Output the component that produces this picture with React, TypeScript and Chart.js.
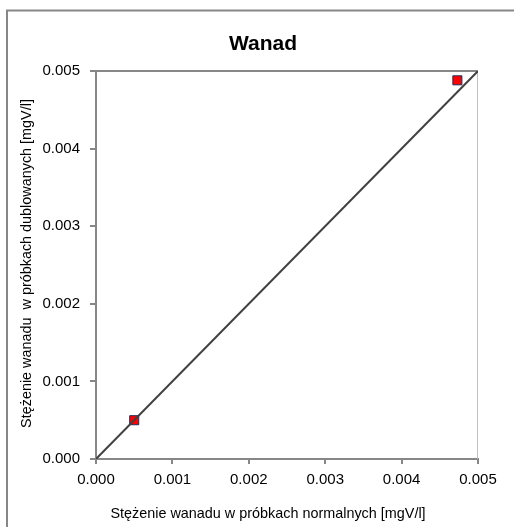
import { useEffect, useRef } from "react";
import { Chart, registerables } from "chart.js";

Chart.register(...registerables);

const TITLE = "Wanad";
const X_TITLE = "Stężenie wanadu w próbkach normalnych [mgV/l]";
const Y_TITLE = "Stężenie wanadu  w próbkach dublowanych [mgV/l]";

const normalValues = [0.0005, 0.00473];
const duplicateValues = [0.0005, 0.00488];
const lineX = [0, 0.005];
const lineY = [0, 0.005];
const AXIS_MIN = 0;
const AXIS_MAX = 0.005;
const AXIS_STEP = 0.001;

const FONT = "'Liberation Sans', Arial, sans-serif";

const decor = {
  id: "decor",
  beforeDraw(chart: any) {
    const ctx = chart.ctx;
    ctx.save();
    ctx.fillStyle = "#ffffff";
    ctx.fillRect(0, 0, chart.width, chart.height);
    ctx.restore();
  },
  beforeDatasetsDraw(chart: any) {
    const ctx = chart.ctx;
    const a = chart.chartArea;
    ctx.save();
    ctx.strokeStyle = "#c0c0c0";
    ctx.lineWidth = 1;
    ctx.beginPath();
    ctx.moveTo(a.right - 0.5, a.top);
    ctx.lineTo(a.right - 0.5, a.bottom);
    ctx.stroke();
    ctx.strokeStyle = "#878787";
    ctx.lineWidth = 2;
    ctx.beginPath();
    ctx.moveTo(a.left, a.top);
    ctx.lineTo(a.right, a.top);
    ctx.stroke();
    ctx.restore();
  },
  afterDraw(chart: any) {
    const ctx = chart.ctx;
    ctx.save();
    ctx.strokeStyle = "#878787";
    ctx.lineWidth = 2;
    ctx.strokeRect(7, 10.5, 540, 540);
    ctx.fillStyle = "#000000";
    ctx.textAlign = "center";
    ctx.textBaseline = "middle";
    ctx.font = `bold 21px ${FONT}`;
    ctx.fillText(TITLE, 263, 44);
    ctx.textBaseline = "alphabetic";
    ctx.font = `14.4px ${FONT}`;
    ctx.fillText(X_TITLE, 268, 518);
    ctx.translate(31, 263.5);
    ctx.rotate(-Math.PI / 2);
    ctx.fillText(Y_TITLE, 0, 0);
    ctx.restore();
  },
};

export default function App() {
  const ref = useRef<HTMLCanvasElement | null>(null);

  useEffect(() => {
    if (!ref.current) return;
    const tickFont = { family: FONT, size: 15 };
    const chart = new Chart(ref.current, {
      type: "scatter",
      data: {
        datasets: [
          {
            type: "line",
            data: lineX.map((x, i) => ({ x, y: lineY[i] })),
            borderColor: "#404040",
            borderWidth: 2,
            pointRadius: 0,
            fill: false,
          } as any,
          {
            data: normalValues.map((x, i) => ({ x, y: duplicateValues[i] })),
            pointStyle: "rect",
            pointRadius: 6.4,
            backgroundColor: "#ff0000",
            borderColor: "#1f2f5f",
            borderWidth: 1,
          },
        ],
      },
      options: {
        animation: false,
        responsive: false,
        devicePixelRatio: 1,
        layout: { padding: { top: 71, right: 36, left: 0, bottom: 0 } },
        plugins: { legend: { display: false }, tooltip: { enabled: false } },
        scales: {
          x: {
            type: "linear",
            min: AXIS_MIN,
            max: AXIS_MAX,
            afterFit: (s: any) => {
              s.height = 68;
            },
            ticks: {
              stepSize: AXIS_STEP,
              color: "#000000",
              font: tickFont,
              padding: 7,
              callback: (v: any) => Number(v).toFixed(3),
            },
            grid: {
              drawOnChartArea: false,
              drawTicks: true,
              tickLength: 5,
              color: "#878787",
              lineWidth: 2,
            },
            border: { color: "#878787", width: 2 },
          },
          y: {
            type: "linear",
            min: AXIS_MIN,
            max: AXIS_MAX,
            afterFit: (s: any) => {
              s.width = 96;
            },
            ticks: {
              stepSize: AXIS_STEP,
              color: "#000000",
              font: tickFont,
              padding: 10,
              callback: (v: any) => Number(v).toFixed(3),
            },
            grid: {
              drawOnChartArea: false,
              drawTicks: true,
              tickLength: 6,
              color: "#878787",
              lineWidth: 2,
            },
            border: { color: "#878787", width: 2 },
          },
        },
      },
      plugins: [decor],
    });
    return () => chart.destroy();
  }, []);

  return (
    <div style={{ position: "fixed", left: 0, top: 0, width: 514, height: 527 }}>
      <canvas ref={ref} width={514} height={527} style={{ display: "block" }} />
    </div>
  );
}
